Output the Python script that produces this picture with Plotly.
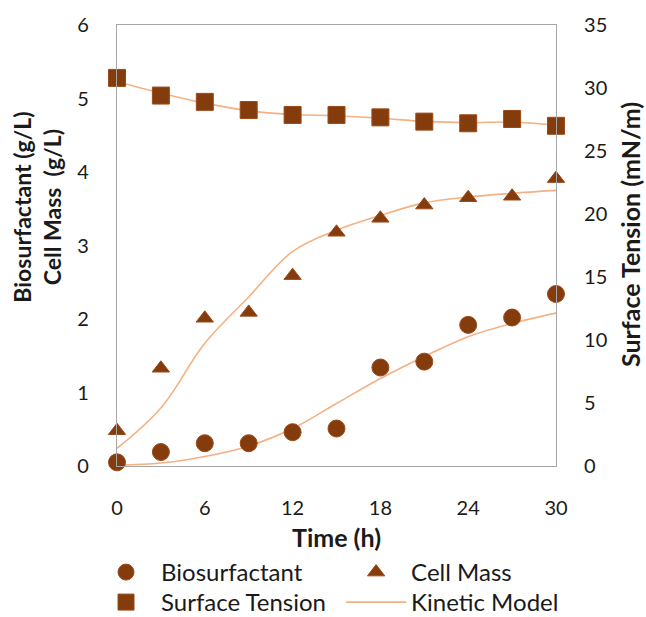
import plotly.graph_objects as go

time_h = [0, 3, 6, 9, 12, 15, 18, 21, 24, 27, 30]
biosurfactant = [0.05, 0.19, 0.31, 0.31, 0.46, 0.51, 1.34, 1.42, 1.92, 2.02, 2.34]
cell_mass = [0.48, 1.33, 2.01, 2.09, 2.59, 3.18, 3.37, 3.55, 3.65, 3.67, 3.91]
surface_tension = [30.8, 29.4, 28.9, 28.25, 27.86, 27.86, 27.67, 27.33, 27.2, 27.54, 27.0]

model_biosurfactant = [0.01, 0.04, 0.13, 0.27, 0.51, 0.85, 1.19, 1.49, 1.76, 1.94, 2.08]
model_cell_mass = [0.24, 0.79, 1.67, 2.30, 2.92, 3.21, 3.41, 3.58, 3.66, 3.71, 3.75]
model_surface_tension = [30.5, 29.6, 28.8, 28.2, 27.9, 27.8, 27.6, 27.35, 27.25, 27.3, 27.05]

x_ticks = [0, 6, 12, 18, 24, 30]

MARK = "#843C0C"
MARK_EDGE = "#9C4A1A"
LINE = "#F4B183"
TXT = "#1a1a1a"
FONT = "Lato"

fig = go.Figure()

# model lines
fig.add_trace(go.Scatter(x=time_h, y=model_cell_mass, mode="lines", line=dict(color=LINE, width=1.6, shape="spline"),
                         showlegend=False, hoverinfo="skip"))
fig.add_trace(go.Scatter(x=time_h, y=model_biosurfactant, mode="lines", line=dict(color=LINE, width=1.6, shape="spline"),
                         showlegend=False, hoverinfo="skip"))
fig.add_trace(go.Scatter(x=time_h, y=model_surface_tension, mode="lines", yaxis="y2",
                         line=dict(color=LINE, width=1.6, shape="spline"),
                         showlegend=False, hoverinfo="skip"))

fig.add_trace(go.Scatter(x=time_h, y=biosurfactant, mode="markers", name="Biosurfactant", legend="legend",
                         marker=dict(symbol="circle", size=17, color=MARK, line=dict(color=MARK_EDGE, width=1)),
                         cliponaxis=False))
fig.add_trace(go.Scatter(x=time_h, y=cell_mass, mode="markers", name="Cell Mass", legend="legend2",
                         marker=dict(symbol="triangle-up", size=15, color=MARK, line=dict(color=MARK_EDGE, width=1)),
                         cliponaxis=False))
fig.add_trace(go.Scatter(x=time_h, y=surface_tension, mode="markers", name="Surface Tension", yaxis="y2",
                         legend="legend3",
                         marker=dict(symbol="square", size=17, color=MARK, line=dict(color=MARK_EDGE, width=1)),
                         cliponaxis=False))
# legend entry for model
fig.add_trace(go.Scatter(x=[None], y=[None], mode="lines", name="Kinetic Model", legend="legend4",
                         line=dict(color=LINE, width=1.6)))

axis_line = dict(showline=True, linecolor="#A6A6A6", linewidth=1.2, showgrid=False, zeroline=False, ticks="")


def leg(x, y):
    return dict(orientation="h", xref="container", yref="container", x=x, xanchor="left",
                y=y, yanchor="top", font=dict(size=24, color=TXT, family=FONT),
                itemwidth=60, bgcolor="rgba(0,0,0,0)")


fig.update_layout(
    width=646, height=617,
    margin=dict(l=117, r=90, t=25, b=151),
    paper_bgcolor="white", plot_bgcolor="white",
    font=dict(family=FONT, size=20, color=TXT),
    xaxis=dict(range=[0, 30], tickvals=x_ticks, mirror=True, ticklabelstandoff=24, **axis_line),
    yaxis=dict(range=[0, 6], dtick=1, ticklabelstandoff=23, **axis_line),
    yaxis2=dict(range=[0, 35], dtick=5, overlaying="y", side="right", ticklabelstandoff=23, **axis_line),
    legend=leg(0.1409, 0.1086),
    legend2=leg(0.528, 0.1086),
    legend3=leg(0.1409, 0.0600),
    legend4=leg(0.528, 0.0600),
    showlegend=True,
)

fig.add_annotation(text="<b>Time (h)</b>", xref="paper", yref="paper", x=0.5, y=-0.161, yanchor="middle",
                   showarrow=False, font=dict(size=25, family=FONT, color=TXT))
fig.add_annotation(text="<b>Biosurfactant (g/L)<br>Cell Mass  (g/L)</b>", xref="paper", yref="paper",
                   x=-0.181, y=0.587, xanchor="center", yanchor="middle", textangle=-90, showarrow=False,
                   font=dict(size=23, family=FONT, color=TXT))
fig.add_annotation(text="<b>Surface Tension (mN/m)</b>", xref="paper", yref="paper",
                   x=1.169, y=0.524, xanchor="center", yanchor="middle", textangle=-90, showarrow=False,
                   font=dict(size=25, family=FONT, color=TXT))

fig.write_html("out.html", post_script="document.body.style.margin='0';",
               config={"displayModeBar": False})
